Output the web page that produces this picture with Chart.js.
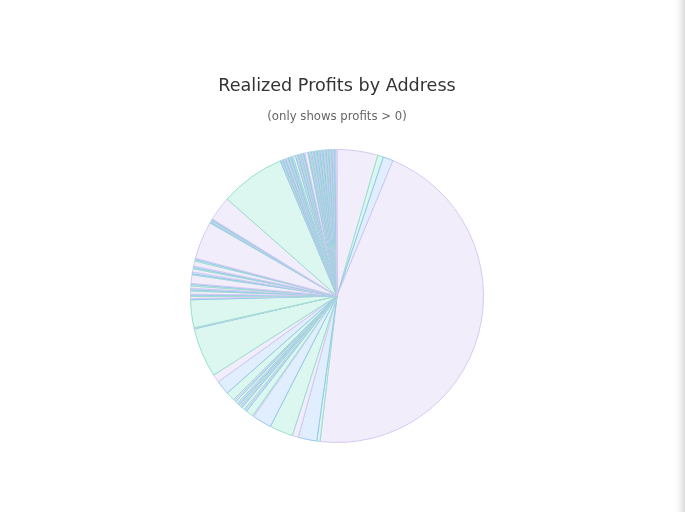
<!DOCTYPE html>
<html>
<head>
<meta charset="utf-8">
<script src="https://cdn.jsdelivr.net/npm/chart.js@4/dist/chart.umd.min.js"></script>
<style>
  html, body { margin: 0; padding: 0; background: #ffffff; }
  #wrap { position: absolute; left: 0; top: 0; width: 674px; height: 512px; }
  #edge { position: absolute; left: 674px; top: 0; width: 11px; height: 512px;
          background: linear-gradient(to right, #ffffff 0%, #fbfbfb 30%, #f0f0f0 60%, #e2e2e2 85%, #dadada 100%); }
</style>
</head>
<body>
<div id="wrap"><canvas id="c" width="674" height="512"></canvas></div>
<div id="edge"></div>
<script>
// ---- data (profit share per address; ordered clockwise from 12 o'clock)
const profits = [
  16.2, 2.3, 4.0, 164.2, 1.3, 7.4, 2.4, 9.3, 7.6,
  0.5, 3.0, 0.6, 0.5, 1.2, 0.5, 0.4, 0.6, 0.5, 0.4, 1.0, 0.6, 0.5, 3.6,
  5.6, 3.2, 19.7, 0.2, 0.2, 11.1,
  0.5, 0.8, 0.5, 0.4, 1.2, 0.5, 0.6, 0.9, 0.6, 0.4, 3.4, 0.4, 0.7, 1.3, 0.5, 0.6, 2.0, 0.6, 0.5,
  15.0, 0.3, 0.5, 0.3, 0.3, 0.4, 9.7, 25.8,
  0.4, 0.3, 0.4, 0.5, 0.3, 0.3, 0.4, 0.5, 0.3, 0.4,
  0.3, 0.4, 0.5, 0.3, 1.0, 0.4, 0.5, 0.3, 0.4, 0.3,
  0.5, 0.3, 0.4, 0.3, 0.4, 1.2, 0.3, 0.4, 0.3, 0.5,
  0.3, 0.4, 0.3, 0.5, 0.3, 0.4, 0.4, 0.3, 0.4, 0.5,
  0.3, 0.4, 0.5, 0.4, 0.4, 0.3, 0.4, 0.3, 0.5, 0.4,
  0.3, 0.4, 0.4, 0.3, 0.5, 0.4
];
const addresses = [
  "Address 1","Address 2","Address 3","Address 4","Address 5","Address 6","Address 7","Address 8","Address 9","Address 10",
  "Address 11","Address 12","Address 13","Address 14","Address 15","Address 16","Address 17","Address 18","Address 19","Address 20",
  "Address 21","Address 22","Address 23","Address 24","Address 25","Address 26","Address 27","Address 28","Address 29","Address 30",
  "Address 31","Address 32","Address 33","Address 34","Address 35","Address 36","Address 37","Address 38","Address 39","Address 40",
  "Address 41","Address 42","Address 43","Address 44","Address 45","Address 46","Address 47","Address 48","Address 49","Address 50",
  "Address 51","Address 52","Address 53","Address 54","Address 55","Address 56","Address 57","Address 58","Address 59","Address 60",
  "Address 61","Address 62","Address 63","Address 64","Address 65","Address 66","Address 67","Address 68","Address 69","Address 70",
  "Address 71","Address 72","Address 73","Address 74","Address 75","Address 76","Address 77","Address 78","Address 79","Address 80",
  "Address 81","Address 82","Address 83","Address 84","Address 85","Address 86","Address 87","Address 88","Address 89","Address 90",
  "Address 91","Address 92","Address 93","Address 94","Address 95","Address 96","Address 97","Address 98","Address 99","Address 100",
  "Address 101","Address 102","Address 103","Address 104","Address 105","Address 106","Address 107","Address 108","Address 109","Address 110",
  "Address 111","Address 112"
];
const titleText = "Realized Profits by Address";
const subtitleText = "(only shows profits > 0)";

// ---- styles
const fillCycle = ["#f2edfa", "#dcf7ef", "#e0eefd"];
const borderCycle = ["#d6c9f1", "#97e0cb", "#98c5ee"];

new Chart(document.getElementById("c"), {
  type: "pie",
  data: {
    labels: addresses,
    datasets: [{
      data: profits,
      backgroundColor: profits.map((_, i) => fillCycle[i % 3]),
      borderColor: profits.map((_, i) => borderCycle[i % 3]),
      borderWidth: 1
    }]
  },
  options: {
    responsive: false,
    animation: false,
    events: [],
    layout: { padding: { top: 0, bottom: 69, left: 0, right: 0 } },
    plugins: {
      legend: { display: false },
      tooltip: { enabled: false },
      title: {
        display: true,
        text: titleText,
        color: "#333333",
        font: { family: "DejaVu Sans", size: 17.6, weight: "normal", lineHeight: 1.2 },
        padding: { top: 75.8, bottom: 12.7 }
      },
      subtitle: {
        display: true,
        text: subtitleText,
        color: "#666666",
        font: { family: "DejaVu Sans", size: 11.7, weight: "normal", lineHeight: 1.2 },
        padding: { top: 0, bottom: 25.3 }
      }
    }
  }
});
</script>
</body>
</html>
